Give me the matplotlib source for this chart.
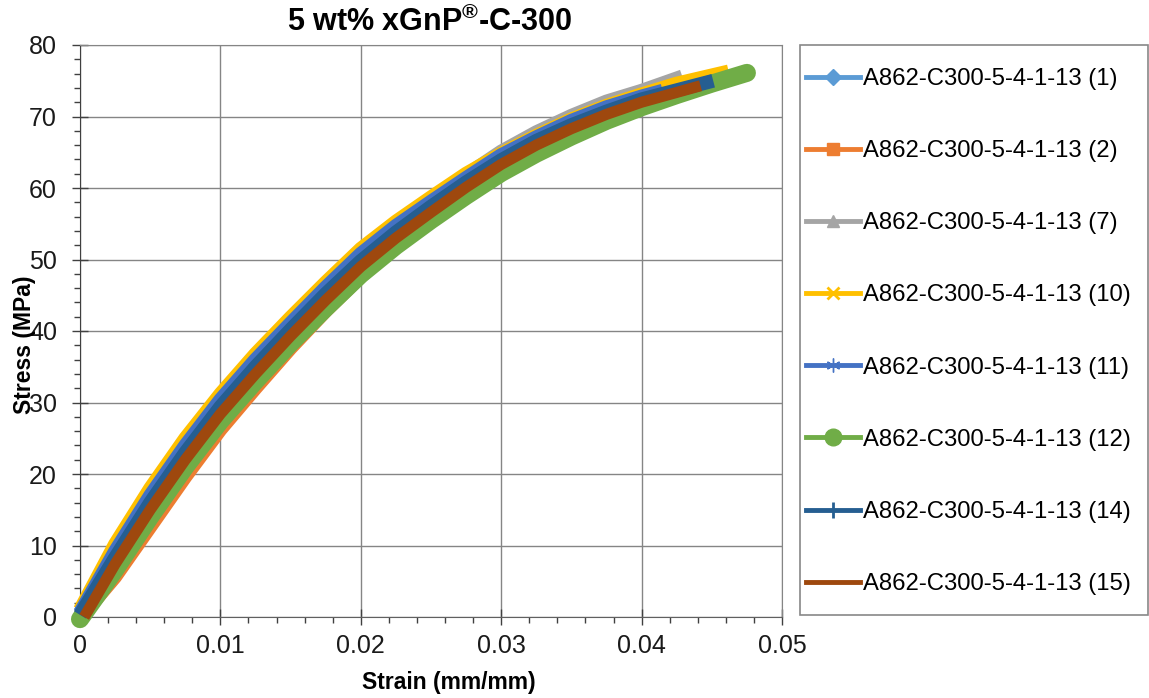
import matplotlib
matplotlib.use("Agg")
import matplotlib.pyplot as plt
from matplotlib.lines import Line2D
from matplotlib.patches import Rectangle
from matplotlib.ticker import MultipleLocator

plt.rcParams['font.family'] = ['Liberation Sans', 'DejaVu Sans']
plt.rcParams['mathtext.fontset'] = 'custom'
plt.rcParams['mathtext.rm'] = 'Liberation Sans'
plt.rcParams['mathtext.bf'] = 'Liberation Sans:bold'

# ---------------------------------------------------------------------------
# Data
# ---------------------------------------------------------------------------
labels = ['A862-C300-5-4-1-13 (1)', 'A862-C300-5-4-1-13 (2)',
          'A862-C300-5-4-1-13 (7)', 'A862-C300-5-4-1-13 (10)',
          'A862-C300-5-4-1-13 (11)', 'A862-C300-5-4-1-13 (12)',
          'A862-C300-5-4-1-13 (14)', 'A862-C300-5-4-1-13 (15)']

strain_1 = [0, 0.0025, 0.005, 0.0075, 0.01, 0.0125, 0.015, 0.0175, 0.02,
            0.0225, 0.025, 0.0275, 0.03, 0.0325, 0.035, 0.0375, 0.0385]
stress_1 = [0.5, 8.9, 16.7, 23.7, 30.1, 35.7, 40.9, 45.8, 50.5,
            54.5, 57.9, 61.3, 64.5, 67.1, 69.4, 71.3, 71.9]

strain_2 = [0, 0.0025, 0.005, 0.0075, 0.01, 0.0125, 0.015, 0.0175, 0.02,
            0.0225, 0.025, 0.0275, 0.03, 0.0325, 0.035, 0.0375, 0.0387]
stress_2 = [-0.2, 5.6, 12.6, 19.6, 26.2, 32.0, 37.6, 42.8, 47.6,
            51.9, 55.9, 59.6, 63.0, 66.1, 68.9, 71.6, 72.6]

strain_7 = [0, 0.0025, 0.005, 0.0075, 0.01, 0.0125, 0.015, 0.0175, 0.02,
            0.0225, 0.025, 0.0275, 0.03, 0.0325, 0.035, 0.0375, 0.04, 0.0429]
stress_7 = [0.3, 8.4, 16.2, 23.3, 29.9, 35.6, 41.0, 46.0, 50.8,
            54.8, 58.4, 61.8, 65.1, 67.8, 70.1, 72.1, 73.6, 75.6]

strain_10 = [0, 0.0025, 0.005, 0.0075, 0.01, 0.0125, 0.015, 0.0175, 0.02,
             0.0225, 0.025, 0.0275, 0.03, 0.0325, 0.035, 0.0375, 0.04,
             0.0425, 0.0462]
stress_10 = [1.0, 10.2, 18.0, 25.0, 31.2, 36.8, 41.9, 46.8, 51.5,
             55.3, 58.7, 62.0, 64.8, 67.3, 69.6, 71.5, 73.1, 74.6, 76.3]

strain_11 = [0, 0.0025, 0.005, 0.0075, 0.01, 0.0125, 0.015, 0.0175, 0.02,
             0.0225, 0.025, 0.0275, 0.03, 0.0325, 0.035, 0.0375, 0.04, 0.0415]
stress_11 = [0.6, 9.2, 17.0, 24.0, 30.4, 36.0, 41.1, 46.1, 50.8,
             54.7, 58.1, 61.4, 64.6, 67.1, 69.4, 71.3, 72.8, 73.6]

strain_12 = [0, 0.0025, 0.005, 0.0075, 0.01, 0.0125, 0.015, 0.0175, 0.02,
             0.0225, 0.025, 0.0275, 0.03, 0.0325, 0.035, 0.0375, 0.04,
             0.0425, 0.045, 0.0475]
stress_12 = [-0.3, 6.6, 14.0, 21.0, 27.4, 33.0, 38.3, 43.2, 47.9,
             51.9, 55.5, 58.9, 62.1, 64.8, 67.2, 69.4, 71.3, 73.0, 74.6, 76.1]

strain_14 = [0, 0.0025, 0.005, 0.0075, 0.01, 0.0125, 0.015, 0.0175, 0.02,
             0.0225, 0.025, 0.0275, 0.03, 0.0325, 0.035, 0.0375, 0.04, 0.0451]
stress_14 = [0.3, 8.3, 16.0, 23.0, 29.4, 35.0, 40.2, 45.2, 49.8,
             53.8, 57.4, 60.8, 63.9, 66.6, 68.8, 70.7, 72.4, 75.0]

strain_15 = [0.0003, 0.0025, 0.005, 0.0075, 0.01, 0.0125, 0.015, 0.0175, 0.02,
             0.0225, 0.025, 0.0275, 0.03, 0.0325, 0.035, 0.0375, 0.04, 0.0442]
stress_15 = [0, 7.4, 15.0, 22.0, 28.4, 34.0, 39.3, 44.3, 49.0,
             53.0, 56.6, 60.1, 63.3, 66.0, 68.3, 70.3, 72.0, 74.3]

# ---------------------------------------------------------------------------
# Style
# ---------------------------------------------------------------------------
COLORS = ['#5B9BD5', '#ED7D31', '#A5A5A5', '#FFC000',
          '#4472C4', '#70AD47', '#255E91', '#9E480E']
MARKERS = ['D', 's', '^', 'x', (6, 2, 0), 'o', '+', None]
MSIZES = [8, 9, 9, 8, 10, 12, 11, 0]
WIDTHS = [10, 10, 10, 10, 10, 13, 10, 8]
GRID = '#858585'

series = [(strain_1, stress_1), (strain_2, stress_2), (strain_7, stress_7),
          (strain_10, stress_10), (strain_11, stress_11),
          (strain_12, stress_12), (strain_14, stress_14),
          (strain_15, stress_15)]

fig = plt.figure(figsize=(11.49, 6.98), dpi=100)
ax = fig.add_axes([80 / 1149, 81 / 698, 702 / 1149, 572 / 698])

for (x, y), c, lw in zip(series, COLORS, WIDTHS):
    cap = 'round' if c == '#70AD47' else 'butt'
    ax.plot(x, y, color=c, lw=lw, solid_capstyle=cap, solid_joinstyle='round',
            clip_on=False, zorder=3)

ax.set_xlim(0, 0.05)
ax.set_ylim(0, 80)
ax.xaxis.set_major_locator(MultipleLocator(0.01))
ax.xaxis.set_minor_locator(MultipleLocator(0.002))
ax.yaxis.set_major_locator(MultipleLocator(10))
ax.yaxis.set_minor_locator(MultipleLocator(2))
ax.set_xticks([0, 0.01, 0.02, 0.03, 0.04, 0.05])
ax.set_xticklabels(['0', '0.01', '0.02', '0.03', '0.04', '0.05'])

ax.grid(True, which='major', color=GRID, lw=1.0, zorder=0)
ax.set_axisbelow(True)
ax.tick_params(which='major', direction='inout', length=11, width=1.0,
               colors='#404040', labelcolor='#1a1a1a', labelsize=18)
ax.tick_params(axis='x', which='major', pad=7)
ax.tick_params(axis='y', which='major', pad=11)
ax.tick_params(which='minor', direction='out', length=4, width=1.0,
               colors='#404040')
for side in ['top', 'right']:
    ax.spines[side].set_color(GRID)
ax.spines['left'].set_color('#404040')
ax.spines['bottom'].set_color('#606060')

ax.set_xlabel('Strain (mm/mm)', fontsize=16.5, fontweight='bold', va='top')
ax.xaxis.set_label_coords(0.5256, -0.094)
ax.set_ylabel('Stress (MPa)', fontsize=16.5, fontweight='bold')
ax.yaxis.set_label_coords(-0.062, 0.4755)

fig.text(430 / 1149, 1 - 22 / 698, r'5 wt% xGnP$^{\mathbf{®}}$-C-300',
         fontsize=22, fontweight='bold', ha='center', va='center')

# legend with its own frame
handles = [Line2D([], [], color=c, lw=3.5, marker=m, markersize=ms,
                  markeredgewidth=2 if m in ('x', '+') else 1)
           for c, m, ms in zip(COLORS, MARKERS, MSIZES)]
fig.add_artist(Rectangle((800 / 1149, 1 - 615 / 698), 348 / 1149, 570 / 698,
                         transform=fig.transFigure, fill=False,
                         edgecolor='#888888', lw=1.2))
fig.legend(handles, labels, loc='upper left',
           bbox_to_anchor=(806 / 1149, 1 - 68 / 698), frameon=False,
           fontsize=17.2, handlelength=2.25, handletextpad=0.15,
           labelspacing=2.1, borderpad=0, borderaxespad=0)

fig.savefig('out.png', dpi=100)
